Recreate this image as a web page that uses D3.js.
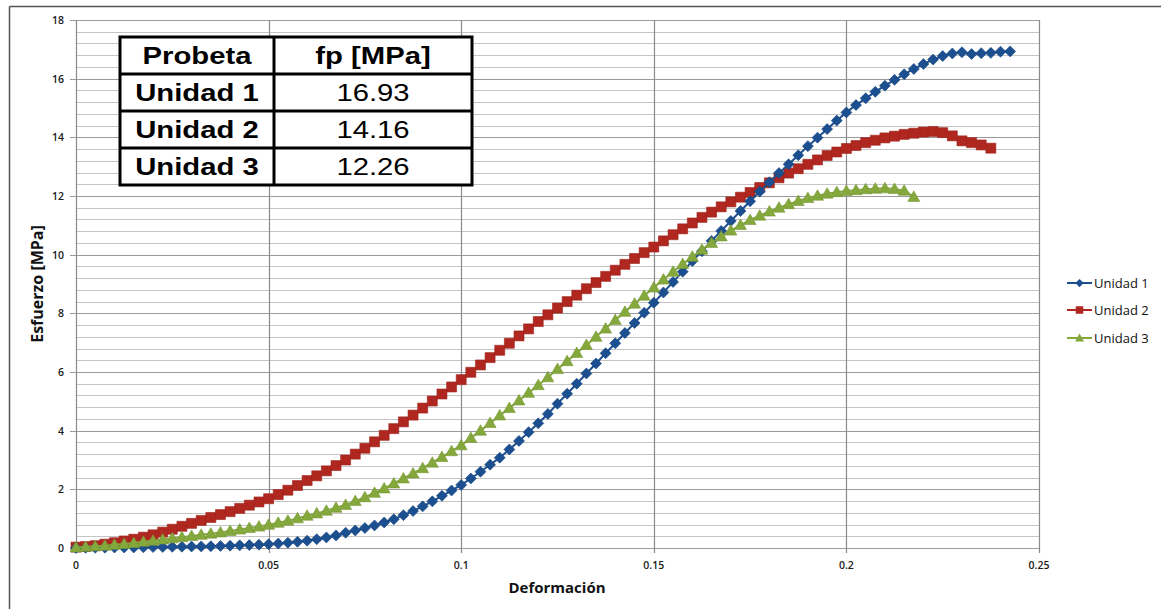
<!DOCTYPE html>
<html><head><meta charset="utf-8">
<script src="https://cdn.jsdelivr.net/npm/d3@7"></script>
<style>body{margin:0;background:#fff}svg{display:block}</style>
</head><body>
<svg id="c" width="1161" height="609"></svg>
<script>
const seriesNames = ["Unidad 1","Unidad 2","Unidad 3"];
const xTicks = [0,0.05,0.1,0.15,0.2,0.25];
const xTickLabels = ["0","0.05","0.1","0.15","0.2","0.25"];
const yTicks = [0,2,4,6,8,10,12,14,16,18];
const tableHeader = ["Probeta","fp [MPa]"];
const tableRows = [["Unidad 1","16.93"],["Unidad 2","14.16"],["Unidad 3","12.26"]];

const unidad1 = [[0,0],[0.0025,0.005],[0.005,0.01],[0.0075,0.012],[0.01,0.015],[0.0125,0.018],[0.015,0.02],[0.0175,0.025],[0.02,0.03],[0.0225,0.035],[0.025,0.04],[0.0275,0.045],[0.03,0.05],[0.0325,0.055],[0.035,0.06],[0.0375,0.07],[0.04,0.08],[0.0425,0.09],[0.045,0.10],[0.0475,0.115],[0.05,0.13],[0.0525,0.15],[0.055,0.18],[0.0575,0.21],[0.06,0.25],[0.0625,0.30],[0.065,0.36],[0.0675,0.43],[0.07,0.52],[0.0725,0.60],[0.075,0.68],[0.0775,0.77],[0.08,0.87],[0.0825,0.98],[0.085,1.12],[0.0875,1.26],[0.09,1.42],[0.0925,1.59],[0.095,1.78],[0.0975,1.96],[0.1,2.15],[0.1025,2.37],[0.105,2.60],[0.1075,2.84],[0.11,3.08],[0.1125,3.36],[0.115,3.65],[0.1175,3.95],[0.12,4.25],[0.1225,4.57],[0.125,4.92],[0.1275,5.26],[0.13,5.60],[0.1325,5.95],[0.135,6.29],[0.1375,6.64],[0.14,6.98],[0.1425,7.33],[0.145,7.67],[0.1475,8.02],[0.15,8.36],[0.1525,8.71],[0.155,9.07],[0.1575,9.42],[0.16,9.78],[0.1625,10.12],[0.165,10.47],[0.1675,10.81],[0.17,11.15],[0.1725,11.49],[0.175,11.82],[0.1775,12.15],[0.18,12.47],[0.1825,12.78],[0.185,13.08],[0.1875,13.39],[0.19,13.70],[0.1925,13.99],[0.195,14.28],[0.1975,14.57],[0.2,14.85],[0.2025,15.10],[0.205,15.33],[0.2075,15.55],[0.21,15.76],[0.2125,15.96],[0.215,16.15],[0.2175,16.33],[0.22,16.50],[0.2225,16.65],[0.225,16.77],[0.2275,16.86],[0.23,16.90],[0.2325,16.84],[0.235,16.87],[0.2375,16.88],[0.24,16.92],[0.2425,16.93]];

const unidad2 = [[0,0.03],[0.0025,0.05],[0.005,0.08],[0.0075,0.13],[0.01,0.18],[0.0125,0.24],[0.015,0.30],[0.0175,0.37],[0.02,0.45],[0.0225,0.54],[0.025,0.64],[0.0275,0.74],[0.03,0.84],[0.0325,0.94],[0.035,1.04],[0.0375,1.14],[0.04,1.24],[0.0425,1.35],[0.045,1.46],[0.0475,1.57],[0.05,1.68],[0.0525,1.82],[0.055,1.97],[0.0575,2.13],[0.06,2.30],[0.0625,2.46],[0.065,2.63],[0.0675,2.81],[0.07,3.00],[0.0725,3.20],[0.075,3.40],[0.0775,3.62],[0.08,3.84],[0.0825,4.07],[0.085,4.30],[0.0875,4.53],[0.09,4.77],[0.0925,5.01],[0.095,5.25],[0.0975,5.49],[0.1,5.74],[0.1025,5.99],[0.105,6.24],[0.1075,6.49],[0.11,6.74],[0.1125,6.98],[0.115,7.23],[0.1175,7.47],[0.12,7.72],[0.1225,7.95],[0.125,8.18],[0.1275,8.40],[0.13,8.62],[0.1325,8.84],[0.135,9.05],[0.1375,9.26],[0.14,9.47],[0.1425,9.67],[0.145,9.87],[0.1475,10.07],[0.15,10.26],[0.1525,10.47],[0.155,10.68],[0.1575,10.88],[0.16,11.08],[0.1625,11.27],[0.165,11.45],[0.1675,11.63],[0.17,11.80],[0.1725,11.96],[0.175,12.12],[0.1775,12.29],[0.18,12.45],[0.1825,12.62],[0.185,12.78],[0.1875,12.93],[0.19,13.08],[0.1925,13.23],[0.195,13.38],[0.1975,13.50],[0.2,13.62],[0.2025,13.72],[0.205,13.82],[0.2075,13.90],[0.21,13.98],[0.2125,14.04],[0.215,14.10],[0.2175,14.14],[0.22,14.18],[0.2225,14.20],[0.225,14.16],[0.2275,14.05],[0.23,13.88],[0.2325,13.82],[0.235,13.74],[0.2375,13.63]];

const unidad3 = [[0,0.02],[0.0025,0.04],[0.005,0.06],[0.0075,0.08],[0.01,0.11],[0.0125,0.14],[0.015,0.17],[0.0175,0.21],[0.02,0.25],[0.0225,0.29],[0.025,0.33],[0.0275,0.37],[0.03,0.41],[0.0325,0.45],[0.035,0.49],[0.0375,0.53],[0.04,0.58],[0.0425,0.63],[0.045,0.68],[0.0475,0.73],[0.05,0.79],[0.0525,0.86],[0.055,0.93],[0.0575,1.01],[0.06,1.10],[0.0625,1.18],[0.065,1.27],[0.0675,1.37],[0.07,1.47],[0.0725,1.60],[0.075,1.73],[0.0775,1.88],[0.08,2.03],[0.0825,2.20],[0.085,2.37],[0.0875,2.54],[0.09,2.72],[0.0925,2.91],[0.095,3.10],[0.0975,3.30],[0.1,3.50],[0.1025,3.75],[0.105,4.00],[0.1075,4.26],[0.11,4.52],[0.1125,4.77],[0.115,5.03],[0.1175,5.29],[0.12,5.55],[0.1225,5.82],[0.125,6.10],[0.1275,6.37],[0.13,6.65],[0.1325,6.92],[0.135,7.20],[0.1375,7.48],[0.14,7.77],[0.1425,8.05],[0.145,8.33],[0.1475,8.60],[0.15,8.88],[0.1525,9.15],[0.155,9.42],[0.1575,9.68],[0.16,9.93],[0.1625,10.17],[0.165,10.40],[0.1675,10.62],[0.17,10.82],[0.1725,11.01],[0.175,11.18],[0.1775,11.33],[0.18,11.47],[0.1825,11.60],[0.185,11.72],[0.1875,11.83],[0.19,11.93],[0.1925,12.01],[0.195,12.08],[0.1975,12.13],[0.2,12.17],[0.2025,12.20],[0.205,12.23],[0.2075,12.25],[0.21,12.26],[0.2125,12.24],[0.215,12.18],[0.2175,11.97]];

const colors = ["#1c4f8f","#b0271f","#84a83b"];
const shapes = ["diamond","square","triangle"];
const seriesData = [unidad1, unidad2, unidad3];

const svg = d3.select("#c");
const W = 1161, H = 609;
const x = d3.scaleLinear().domain([0,0.25]).range([76,1039]);
const y = d3.scaleLinear().domain([0,18]).range([548,20]);

// outer frame (left and top)
svg.append("line").attr("x1",9.5).attr("x2",9.5).attr("y1",6.5).attr("y2",H).attr("stroke","#555").attr("stroke-width",1.5);
svg.append("line").attr("x1",9.5).attr("x2",W).attr("y1",6.5).attr("y2",6.5).attr("stroke","#555").attr("stroke-width",1.5);

// minor horizontal gridlines
const minor = d3.range(0, 18.001, 0.4);
svg.append("g").selectAll("line").data(minor).join("line")
  .attr("x1",x(0)).attr("x2",x(0.25))
  .attr("y1",d=>Math.round(y(d))+0.5).attr("y2",d=>Math.round(y(d))+0.5)
  .attr("stroke","#c4c4c4").attr("stroke-width",1.2);
// major horizontal gridlines
svg.append("g").selectAll("line").data(yTicks).join("line")
  .attr("x1",x(0)-6).attr("x2",x(0.25))
  .attr("y1",d=>Math.round(y(d))+0.5).attr("y2",d=>Math.round(y(d))+0.5)
  .attr("stroke","#9a9a9a").attr("stroke-width",1.2);
// vertical gridlines
svg.append("g").selectAll("line").data(xTicks).join("line")
  .attr("x1",d=>Math.round(x(d))+0.5).attr("x2",d=>Math.round(x(d))+0.5)
  .attr("y1",y(18)).attr("y2",y(0)+5)
  .attr("stroke","#8a8a8a").attr("stroke-width",1.2);

// axes tick labels
svg.append("g").selectAll("text").data(yTicks).join("text")
  .attr("x",64).attr("y",d=>y(d)+4)
  .attr("text-anchor","end").attr("font-family","Open Sans, sans-serif")
  .attr("font-size",10.5).attr("font-weight",600).attr("fill","#1a1a1a")
  .text(d=>d);
svg.append("g").selectAll("text").data(xTicks).join("text")
  .attr("x",d=>x(d)).attr("y",569)
  .attr("text-anchor","middle").attr("font-family","Open Sans, sans-serif")
  .attr("font-size",10.5).attr("font-weight",600).attr("fill","#1a1a1a")
  .text((d,i)=>xTickLabels[i]);

// axis titles
svg.append("text").attr("x",557).attr("y",593).attr("text-anchor","middle")
  .attr("font-family","Open Sans, sans-serif").attr("font-size",15).attr("font-weight",700)
  .attr("fill","#111").text("Deformación");
svg.append("text").attr("transform","translate(43,284) rotate(-90)").attr("text-anchor","middle")
  .attr("font-family","Open Sans, sans-serif").attr("font-size",16).attr("font-weight",700)
  .attr("fill","#111").text("Esfuerzo [MPa]");

function markerPath(shape){
  if(shape==="diamond") return "M0,-5.5L5.5,0L0,5.5L-5.5,0Z";
  if(shape==="square") return "M-5,-5L5,-5L5,5L-5,5Z";
  return "M0,-6L6,4.5L-6,4.5Z";
}

const line = d3.line().x(d=>x(d[0])).y(d=>y(d[1]));
const drawOrder = [1,0,2];
drawOrder.forEach(i=>{
  const g = svg.append("g");
  g.append("path").datum(seriesData[i]).attr("d",line)
    .attr("fill","none").attr("stroke",colors[i]).attr("stroke-width",2);
  g.selectAll("path.m").data(seriesData[i]).join("path").attr("class","m")
    .attr("transform",d=>`translate(${x(d[0])},${y(d[1])})`)
    .attr("d",markerPath(shapes[i]))
    .attr("fill",colors[i]).attr("stroke",d3.color(colors[i]).darker(0.3)).attr("stroke-width",0.6);
});

// legend
const legY = [283, 310, 338];
seriesNames.forEach((n,i)=>{
  const g = svg.append("g");
  g.append("line").attr("x1",1067).attr("x2",1092).attr("y1",legY[i]).attr("y2",legY[i])
    .attr("stroke",colors[i]).attr("stroke-width",2);
  g.append("path").attr("transform",`translate(1079.5,${legY[i]}) scale(0.75)`)
    .attr("d",markerPath(shapes[i])).attr("fill",colors[i]);
  g.append("text").attr("x",1094).attr("y",legY[i]+4.5)
    .attr("font-family","Open Sans, sans-serif").attr("font-size",13).attr("fill","#111")
    .text(n);
});

// table
const tX = [120, 274, 472];
const tY = [37, 74, 111, 148, 185];
const tg = svg.append("g");
tg.append("rect").attr("x",tX[0]).attr("y",tY[0]).attr("width",tX[2]-tX[0]).attr("height",tY[4]-tY[0])
  .attr("fill","#fff").attr("stroke","#000").attr("stroke-width",3);
tg.append("line").attr("x1",tX[1]).attr("x2",tX[1]).attr("y1",tY[0]).attr("y2",tY[4]).attr("stroke","#000").attr("stroke-width",3);
[1,2,3].forEach(r=>tg.append("line").attr("x1",tX[0]).attr("x2",tX[2]).attr("y1",tY[r]).attr("y2",tY[r]).attr("stroke","#000").attr("stroke-width",3));
const allRows = [tableHeader].concat(tableRows);
allRows.forEach((row,r)=>{
  row.forEach((cell,c)=>{
    const cx = (tX[c]+tX[c+1])/2, cy = (tY[r]+tY[r+1])/2 + 8.5;
    tg.append("text").attr("transform",`translate(${cx},${cy}) scale(1.22,1)`)
      .attr("text-anchor","middle").attr("font-family","Liberation Sans, Arial, sans-serif")
      .attr("font-size",24).attr("font-weight",(r===0||c===0)?700:400).attr("fill","#000")
      .text(cell);
  });
});
</script>
</body></html>
